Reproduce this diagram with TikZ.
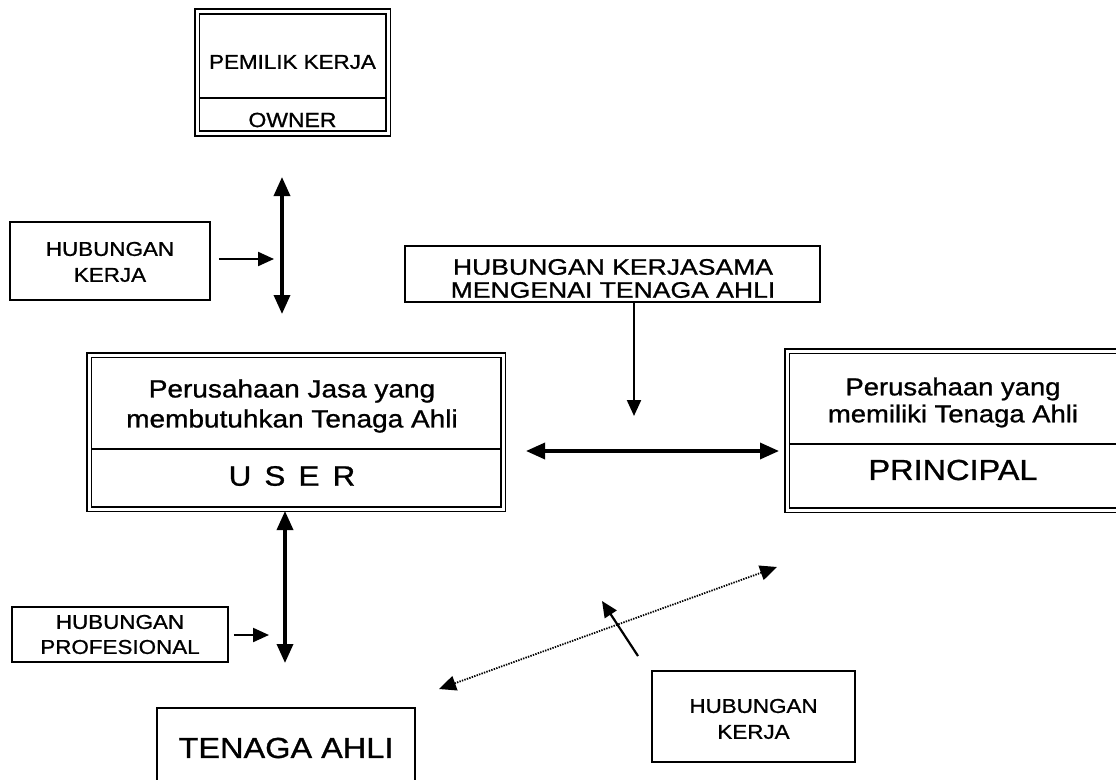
\documentclass[tikz,border=0pt]{standalone}
\usepackage{fontspec}
\setmainfont{Liberation Sans}[FakeBold=0.9]
\usetikzlibrary{arrows.meta}
% horizontally widened lettering
\newcommand\widetxt[2][1.12]{\scalebox{#1}[1]{#2}}
\newcommand\fs[1]{\fontsize{#1}{#1}\selectfont}

\begin{document}
\begin{tikzpicture}[x=1pt,y=-1pt,
  dbox/.style={draw, double, double distance=3pt, line width=1.7pt, inner sep=0pt},
  sbox/.style={draw, line width=1.6pt, inner sep=0pt},
  rule/.style={line width=1.6pt},
  txt/.style={inner sep=0pt, anchor=center},
  bigarrow/.style={line width=3.4pt, {Triangle[width=16pt,length=19pt]}-{Triangle[width=16pt,length=19pt]}},
  pointer/.style={line width=2.2pt, -{Triangle[width=14pt,length=16pt]}},
  dotarrow/.style={line width=1.8pt, dash pattern=on 1.4pt off 1.2pt,
    {Triangle[width=15pt,length=17pt]}-{Triangle[width=15pt,length=17pt]}},
]
\useasboundingbox (0,0) rectangle (1116,779);

% ---------- main boxes ----------
\node[dbox, minimum width=191pt, minimum height=122pt] (owner) at (292.5,72.5) {};
\draw[rule] (199.5,98) -- (385.5,98);
\node[txt, font=\fs{20}] (ownerA) at (292.5,62) {\widetxt{PEMILIK KERJA}};
\node[txt, font=\fs{20.5}] (ownerB) at (292.5,120) {\widetxt{OWNER}};

\node[dbox, minimum width=414pt, minimum height=154pt] (user) at (296,432) {};
\draw[rule] (92,449) -- (500,449);
\node[txt, font=\fs{25}] (userA) at (292,391) {\widetxt{Perusahaan Jasa yang}};
\node[txt, font=\fs{25}] (userB) at (292,421) {\widetxt{membutuhkan Tenaga Ahli}};
\node[txt, font=\fs{28}] (userC) at (292,476) {\widetxt{U\hspace{0.42em}S\hspace{0.42em}E\hspace{0.42em}R}};

\node[dbox, minimum width=336pt, minimum height=159pt] (principal) at (955,430.5) {};
\draw[rule] (790,444) -- (1116,444);
\node[txt, font=\fs{24.5}] (princA) at (953,389) {\widetxt{Perusahaan yang}};
\node[txt, font=\fs{24.5}] (princB) at (953,416) {\widetxt{memiliki Tenaga Ahli}};
\node[txt, font=\fs{29}] (princC) at (953,470) {\widetxt{PRINCIPAL}};

\node[sbox, minimum width=258pt, minimum height=90pt] (tenaga) at (286,753) {};
\node[txt, font=\fs{29}] (tenagaT) at (286,748) {\widetxt{TENAGA AHLI}};

% ---------- relation labels ----------
\node[sbox, minimum width=200pt, minimum height=78pt] (relkerjaL) at (110,261) {};
\node[txt, font=\fs{20}] (relkerjaLA) at (110,249) {\widetxt{HUBUNGAN}};
\node[txt, font=\fs{20}] (relkerjaLB) at (110,275) {\widetxt{KERJA}};

\node[sbox, minimum width=415pt, minimum height=56pt] (relsama) at (612.5,274) {};
\node[txt, font=\fs{22.5}] (relsamaA) at (613,267) {\widetxt[1.18]{HUBUNGAN KERJASAMA}};
\node[txt, font=\fs{22.5}] (relsamaB) at (613,290) {\widetxt[1.18]{MENGENAI TENAGA AHLI}};

\node[sbox, minimum width=216pt, minimum height=55pt] (relprof) at (120,634.5) {};
\node[txt, font=\fs{20}] (relprofA) at (120,622) {\widetxt{HUBUNGAN}};
\node[txt, font=\fs{20}] (relprofB) at (120,647) {\widetxt{PROFESIONAL}};

\node[sbox, minimum width=203pt, minimum height=91pt] (relkerjaR) at (753.5,716.5) {};
\node[txt, font=\fs{20}] (relkerjaRA) at (753.5,706) {\widetxt{HUBUNGAN}};
\node[txt, font=\fs{20}] (relkerjaRB) at (753.5,732) {\widetxt{KERJA}};

% ---------- connector end points ----------
\coordinate (ownerdown) at (282,177);
\coordinate (userup) at (282,314);
\coordinate (userdown) at (285,511);
\coordinate (tenagaup) at (285,663);
\coordinate (userright) at (526,451);
\coordinate (principalleft) at (779,451);
\coordinate (principalfoot) at (777,567);
\coordinate (tenagaside) at (439,689);
\coordinate (samatip) at (634,416);
\coordinate (kerjaLtip) at (274,259);
\coordinate (proftip) at (269,635);
\coordinate (kerjaRtail) at (638,656);
\coordinate (kerjaRtip) at (602,601);

% ---------- connectors ----------
\draw[bigarrow] (ownerdown) -- (userup);
\draw[bigarrow] (userdown) -- (tenagaup);
\draw[bigarrow] (userright) -- (principalleft);
\draw[dotarrow] (tenagaside) -- (principalfoot);
\draw[pointer] (relsama.south -| samatip) -- (samatip);
\draw[pointer] ([xshift=8pt]relkerjaL.east |- kerjaLtip) -- (kerjaLtip);
\draw[pointer] ([xshift=5pt]relprof.east |- proftip) -- (proftip);
\draw[pointer] (kerjaRtail) -- (kerjaRtip);
\end{tikzpicture}
\end{document}
